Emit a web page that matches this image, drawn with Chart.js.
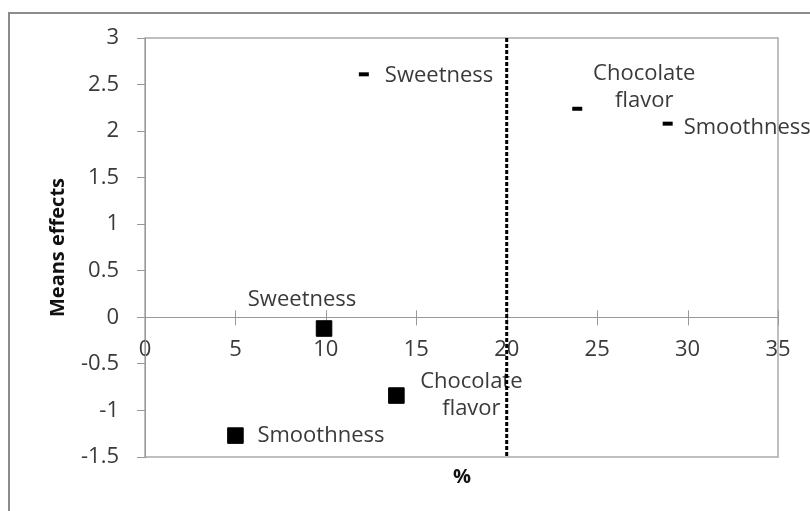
<!DOCTYPE html>
<html>
<head>
<meta charset="utf-8">
<script src="https://cdn.jsdelivr.net/npm/chart.js@4.4.0/dist/chart.umd.min.js"></script>
<style>
  body { margin: 0; background: #fff; }
  canvas { display: block; }
</style>
</head>
<body>
<canvas id="meansChart" width="810" height="511"></canvas>
<script>
// attribute names, same order in both groups
const attributes = ["Sweetness", "Chocolate flavor", "Smoothness"];

// upper group (small dashes)
const upperX = [12.1, 23.9, 28.9];
const upperY = [2.61, 2.24, 2.08];

// lower group (big squares)
const lowerX = [9.9, 13.9, 5.0];
const lowerY = [-0.12, -0.84, -1.27];

const xTicks = [0, 5, 10, 15, 20, 25, 30, 35];
const yTicks = [-1.5, -1, -0.5, 0, 0.5, 1, 1.5, 2, 2.5, 3];
const cutoff = 20; // dashed vertical line

// label placement next to each point: [dx, dy, align]
const upperLabelPos = [[21, 1, "left"], [67, -22, "center"], [16, 4, "left"]];
const lowerLabelPos = [[-22, -29, "center"], [75, 0, "center"], [22, 0, "left"]];

const FONT = "Open Sans";
const TEXT = "#3a3a3a";
const AXIS = "#999999";

function toPoints(xs, ys) {
  return xs.map((x, i) => ({ x: x, y: ys[i] }));
}

const extras = {
  id: "extras",
  beforeDraw(chart) {
    const { ctx, chartArea: a } = chart;
    ctx.save();
    // outer chart frame
    ctx.strokeStyle = "#8c8c8c";
    ctx.lineWidth = 2;
    ctx.strokeRect(9, 13, 900, 600);
    // plot area frame
    ctx.strokeStyle = "#aaaaaa";
    ctx.lineWidth = 1.5;
    ctx.strokeRect(a.left, a.top, a.right - a.left, a.bottom - a.top);
    ctx.restore();
  },
  beforeDatasetsDraw(chart) {
    const { ctx, scales } = chart;
    ctx.save();
    // tick marks crossing the x axis
    const y0 = scales.y.getPixelForValue(0);
    ctx.strokeStyle = AXIS;
    ctx.lineWidth = 1;
    xTicks.forEach(v => {
      const px = Math.round(scales.x.getPixelForValue(v)) + 0.5;
      ctx.beginPath();
      ctx.moveTo(px, y0 - 7);
      ctx.lineTo(px, y0 + 8);
      ctx.stroke();
    });
    ctx.restore();
  },
  afterDatasetsDraw(chart) {
    const { ctx, chartArea: a, scales } = chart;
    ctx.save();

    // point labels
    ctx.fillStyle = TEXT;
    ctx.font = "22px '" + FONT + "'";
    ctx.textBaseline = "middle";
    const groups = [upperLabelPos, lowerLabelPos];
    groups.forEach((pos, di) => {
      const meta = chart.getDatasetMeta(di);
      meta.data.forEach((pt, i) => {
        const [dx, dy, align] = pos[i];
        const lines = attributes[i].indexOf(" ") > 0 ? attributes[i].split(" ") : [attributes[i]];
        const lh = 27;
        ctx.textAlign = align;
        lines.forEach((line, li) => {
          const ly = pt.y + dy + (li - (lines.length - 1) / 2) * lh;
          ctx.fillText(line, pt.x + dx, ly);
        });
      });
    });

    // dashed vertical line
    const cx = scales.x.getPixelForValue(cutoff);
    ctx.strokeStyle = "#000";
    ctx.lineWidth = 3;
    ctx.setLineDash([4, 2]);
    ctx.beginPath();
    ctx.moveTo(cx, a.top);
    ctx.lineTo(cx, a.bottom);
    ctx.stroke();
    ctx.setLineDash([]);

    // x axis title
    ctx.fillStyle = "#111";
    ctx.font = "bold 20px '" + FONT + "'";
    ctx.textAlign = "center";
    ctx.fillText("%", (a.left + a.right) / 2 + 0.5, a.bottom + 20);
    ctx.restore();
  }
};

new Chart(document.getElementById("meansChart"), {
  type: "scatter",
  data: {
    datasets: [
      {
        label: "upper",
        data: toPoints(upperX, upperY),
        pointStyle: "line",
        pointRadius: 5,
        borderWidth: 4,
        borderColor: "#000",
        backgroundColor: "#000"
      },
      {
        label: "lower",
        data: toPoints(lowerX, lowerY),
        pointStyle: "rect",
        pointRadius: 11,
        borderWidth: 1,
        borderColor: "#000",
        backgroundColor: "#000"
      }
    ]
  },
  options: {
    responsive: false,
    animation: false,
    events: [],
    layout: { padding: { left: 8, top: 38, right: 32, bottom: 54 } },
    plugins: { legend: { display: false }, tooltip: { enabled: false } },
    scales: {
      x: {
        type: "linear",
        position: { y: 0 },
        min: 0,
        max: 35,
        afterBuildTicks: s => { s.ticks = xTicks.map(v => ({ value: v })); },
        grid: { display: false, drawTicks: false },
        border: { display: true, color: AXIS, width: 1 },
        ticks: {
          padding: 19,
          maxRotation: 0,
          color: TEXT,
          font: { family: FONT, size: 22 },
          callback: v => String(v)
        }
      },
      y: {
        type: "linear",
        position: "left",
        min: -1.5,
        max: 3,
        afterBuildTicks: s => { s.ticks = yTicks.map(v => ({ value: v })); },
        afterFit: s => { s.width = 137; },
        grid: { display: true, drawOnChartArea: false, drawTicks: true, tickLength: 8, color: AXIS },
        border: { display: true, color: AXIS, width: 1 },
        ticks: {
          padding: 18,
          color: TEXT,
          font: { family: FONT, size: 22 },
          callback: v => String(v)
        },
        title: {
          display: true,
          text: "Means effects",
          color: "#111",
          font: { family: FONT, size: 20, weight: "bold" },
          padding: { top: 38, bottom: 0 }
        }
      }
    }
  },
  plugins: [extras]
});
</script>
</body>
</html>
